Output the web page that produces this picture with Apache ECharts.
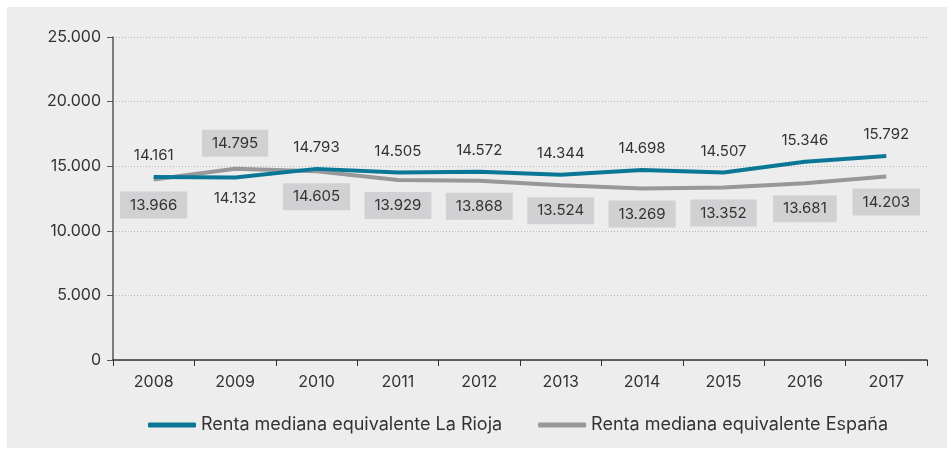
<!DOCTYPE html>
<html>
<head>
<meta charset="utf-8">
<script src="https://cdn.jsdelivr.net/npm/echarts@6/dist/echarts.min.js"></script>
<style>
  body { margin: 0; background: #fff; }
  #main { position: absolute; left: 7px; top: 7px; width: 940px; height: 441px; background: #ededed; }
</style>
</head>
<body>
<div id="main"></div>
<script>
// años
const years = ['2008', '2009', '2010', '2011', '2012', '2013', '2014', '2015', '2016', '2017'];
// renta mediana La Rioja
const rioja = [14161, 14132, 14793, 14505, 14572, 14344, 14698, 14507, 15346, 15792];
// renta mediana España
const espana = [13966, 14795, 14605, 13929, 13868, 13524, 13269, 13352, 13681, 14203];
// años en que las etiquetas se invierten
const flipIdx = [1];

const fmt = v => v.toLocaleString('de-DE');
const FONT = 'Inter';

const riojaData = rioja.map((v, i) => ({
    value: v,
    label: { position: flipIdx.includes(i) ? 'bottom' : 'top' }
}));
const espanaData = espana.map((v, i) => ({
    value: v,
    label: { position: flipIdx.includes(i) ? 'top' : 'bottom' }
}));

const myChart = echarts.init(document.getElementById('main'));
const option = {
    animation: false,
    textStyle: { fontFamily: FONT },
    grid: { left: 106, right: 20, top: 30, bottom: 88 },
    legend: {
        bottom: 9,
        left: 136,
        icon: 'roundRect',
        itemWidth: 48,
        itemHeight: 5,
        itemGap: 36,
        textStyle: { fontFamily: FONT, fontSize: 18, color: '#333' },
        data: ['Renta mediana equivalente La Rioja', 'Renta mediana equivalente España']
    },
    xAxis: {
        type: 'category',
        data: years,
        axisLine: { lineStyle: { color: '#333', width: 1.5 } },
        axisTick: { show: true, length: 6, lineStyle: { color: '#333' } },
        axisLabel: { fontFamily: FONT, fontSize: 16, color: '#333', margin: 14 }
    },
    yAxis: {
        type: 'value',
        min: 0,
        max: 25000,
        interval: 5000,
        axisLine: { show: true, lineStyle: { color: '#555', width: 1.5 } },
        axisTick: { show: true, length: 6, lineStyle: { color: '#555' } },
        axisLabel: { fontFamily: FONT, fontSize: 16, color: '#333', margin: 12, formatter: v => fmt(v) },
        splitLine: { lineStyle: { color: '#b5b5b5', type: [1, 2] } }
    },
    series: [
        {
            name: 'Renta mediana equivalente La Rioja',
            type: 'line',
            data: riojaData,
            symbol: 'circle',
            symbolSize: 0,
            lineStyle: { color: '#0b7796', width: 4 },
            itemStyle: { color: '#0b7796' },
            label: {
                show: true,
                distance: 14,
                fontFamily: FONT,
                fontSize: 15,
                color: '#333',
                formatter: p => fmt(p.value)
            },
            z: 3
        },
        {
            name: 'Renta mediana equivalente España',
            type: 'line',
            data: espanaData,
            symbol: 'circle',
            symbolSize: 0,
            lineStyle: { color: '#98989b', width: 4 },
            itemStyle: { color: '#98989b' },
            label: {
                show: true,
                distance: 12,
                fontFamily: FONT,
                fontSize: 15,
                color: '#333',
                backgroundColor: '#d1d1d3',
                padding: [6, 10],
                formatter: p => fmt(p.value)
            },
            z: 2
        }
    ]
};
myChart.setOption(option);
</script>
</body>
</html>
